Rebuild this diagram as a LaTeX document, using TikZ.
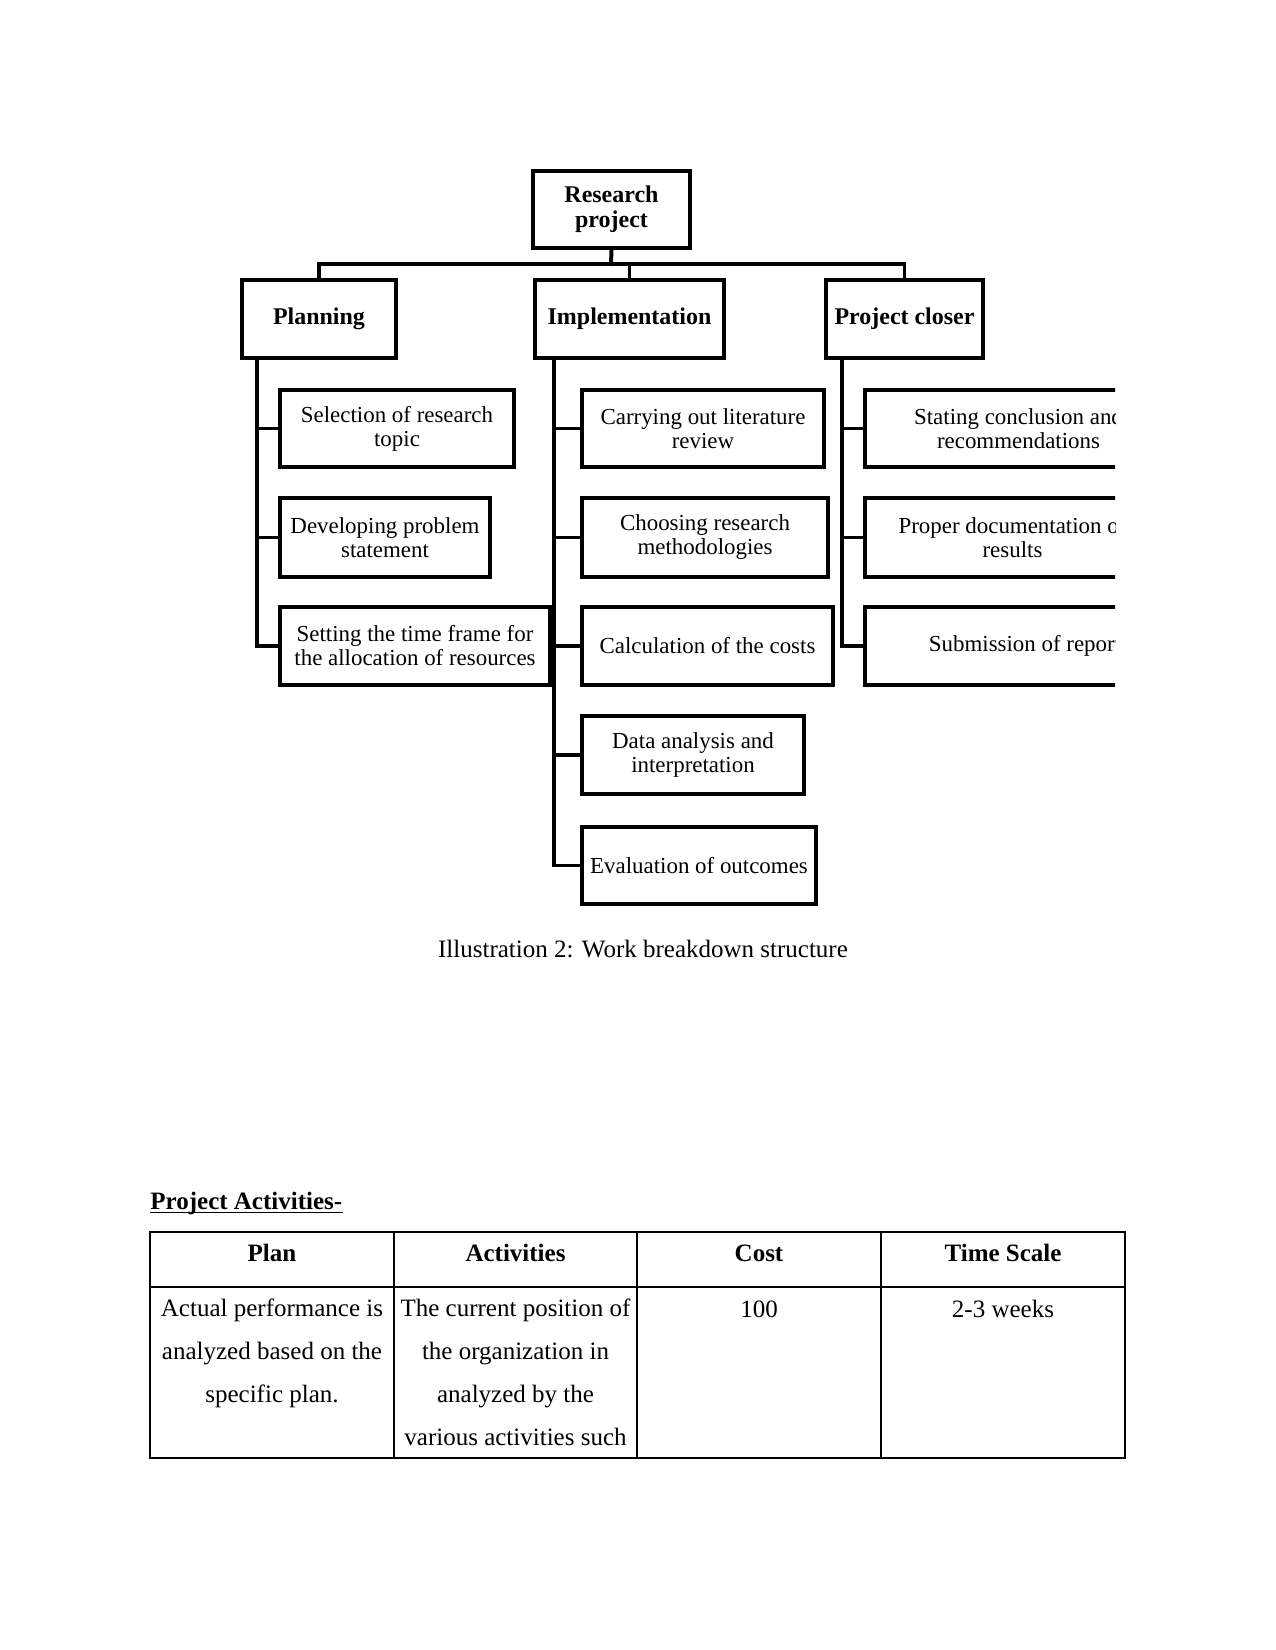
\documentclass[tikz,border=0pt]{standalone}
\usepackage{fontspec}
\setmainfont{Liberation Serif}
\newcommand\wbs[7]{\node[#1, minimum width={(#4-#2)*0.48pt}, minimum height={(#5-#3)*0.48pt}] (#6) at ({(#2+#4)/2},{(#3+#5)/2}) {#7};}
\begin{document}
\begin{tikzpicture}[x=0.48pt, y=-0.48pt,
  box/.style={draw, line width=1.9pt, inner sep=0pt, align=center, font=\fontsize{11}{11.5}\selectfont},
  headbox/.style={box, font=\bfseries\fontsize{11.5}{12}\selectfont},
  wire/.style={line width=1.9pt, line cap=rect, line join=miter},
  th/.style={anchor=base, inner sep=0pt, font=\bfseries\fontsize{12}{14}\selectfont},
  td/.style={anchor=base, inner sep=0pt, align=center, font=\fontsize{12}{20.5}\selectfont},
  outer/.style={line width=1pt},
  inner/.style={line width=0.6pt}]
\useasboundingbox (0,0) rectangle (1275,1650);
% top levels
\wbs{headbox}{533}{171}{690}{248}{root}{Research\\project}
\wbs{headbox}{242}{280}{396}{358}{plan}{Planning}
\wbs{headbox}{535}{280}{724}{358}{impl}{Implementation}
\wbs{headbox}{826}{280}{983}{358}{clos}{Project closer}
% planning children
\wbs{box}{280}{390}{514}{467}{sel}{Selection of research\\topic}
\wbs{box}{280}{498}{490}{577}{dev}{Developing problem\\statement}
\wbs{box}{280}{607}{550}{685}{set}{Setting the time frame for\\the allocation of resources}
% implementation children
\wbs{box}{582}{390}{824}{467}{car}{Carrying out literature\\review}
\wbs{box}{582}{498}{828}{577}{cho}{Choosing research\\methodologies}
\wbs{box}{582}{607}{833}{685}{cal}{Calculation of the costs}
\wbs{box}{582}{716}{804}{794}{dat}{Data analysis and\\interpretation}
\wbs{box}{582}{827}{816}{904}{eva}{Evaluation of outcomes}
% closer children (clipped)
\begin{scope}
\clip (0,0) rectangle (1115,1650);
\wbs{box}{865}{390}{1172}{467}{sta}{Stating conclusion and\\recommendations}
\wbs{box}{865}{498}{1160}{577}{pro}{Proper documentation of\\results}
\wbs{box}{865}{607}{1185}{685}{sub}{Submission of report}
\end{scope}
% bus
\coordinate (bus) at (611,264);
\draw[wire] (root.south) -- (bus);
\draw[wire] (plan.north) -- (plan.north |- bus) -- (clos.north |- bus) -- (clos.north);
\draw[wire] (impl.north) -- (impl.north |- bus);
% spines
\coordinate (pspine) at (257,0);
\coordinate (ispine) at (554,0);
\coordinate (cspine) at (842,0);
\draw[wire] (plan.south -| pspine) |- (set.west);
\draw[wire] (sel.west) -- (sel.west -| pspine);
\draw[wire] (dev.west) -- (dev.west -| pspine);
\draw[wire] (impl.south -| ispine) |- (eva.west);
\draw[wire] (car.west) -- (car.west -| ispine);
\draw[wire] (cho.west) -- (cho.west -| ispine);
\draw[wire] (cal.west) -- (cal.west -| ispine);
\draw[wire] (dat.west) -- (dat.west -| ispine);
\draw[wire] (clos.south -| cspine) |- (sub.west);
\draw[wire] (sta.west) -- (sta.west -| cspine);
\draw[wire] (pro.west) -- (pro.west -| cspine);
% caption
\node[anchor=base, inner sep=0pt, font=\fontsize{12}{14}\selectfont] (cap) at (643,957) {Illustration 2: Work breakdown structure};
% table
\node[anchor=base west, inner sep=0pt, font=\bfseries\fontsize{12}{14}\selectfont] (pa) at (150,1209) {Project Activities-};
\draw[line width=0.6pt] ([yshift=-1.5pt]pa.base west) -- ([yshift=-1.5pt]pa.base east);
\draw[inner] (150,1287) -- (1125,1287);
\draw[inner] (394,1232) -- (394,1458);
\draw[inner] (637,1232) -- (637,1458);
\draw[inner] (881,1232) -- (881,1458);
\draw[outer] (150,1232) rectangle (1125,1458);
\node[th] (h1) at (272,1261) {Plan};
\node[th] (h2) at (515.5,1261) {Activities};
\node[th] (h3) at (759,1261) {Cost};
\node[th] (h4) at (1003,1261) {Time Scale};
\node[td] (d1) at (272,1402) {Actual performance is\\analyzed based on the\\specific plan.};
\node[td] (d2) at (515.5,1445) {The current position of\\the organization in\\analyzed by the\\various activities such};
\node[td] (d3) at (759,1317) {100};
\node[td] (d4) at (1003,1317) {2-3 weeks};
\end{tikzpicture}
\end{document}
